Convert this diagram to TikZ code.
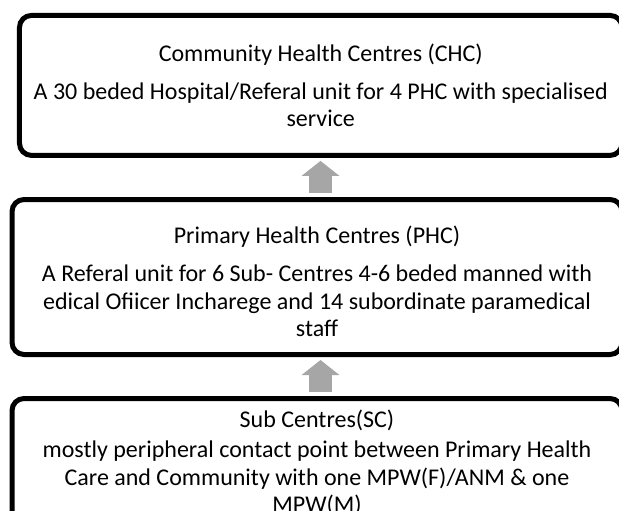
\documentclass[tikz,border=0pt]{standalone}
\usepackage{fontspec}
\setmainfont{Carlito}
\usetikzlibrary{positioning,arrows.meta}
\definecolor{arrowgray}{RGB}{166,166,166}
\begin{document}
\begin{tikzpicture}[x=0.75pt,y=-0.75pt,
  level/.style={draw,line width=3.75pt,rounded corners=9pt,inner sep=0pt,align=center,font=\fontsize{18}{20.6}\selectfont},
  uparrow/.style={draw=arrowgray,line width=17.25pt,-{Triangle[length=11.25pt,width=27.75pt]}}]
\useasboundingbox (0,0) rectangle (619,511);
\node[level,minimum width=451.9pt,minimum height=105pt] (chc) at (320.75,85.4) {Community Health Centres (CHC)\\[8pt]A 30 beded Hospital/Referal unit for 4 PHC with specialised\\service};
\node[level,minimum width=457.5pt,minimum height=116.25pt] (phc) at (317,277) {\rule{0pt}{20pt}Primary Health Centres (PHC)\\[8pt]A Referal unit for 6 Sub- Centres 4-6 beded manned with\\edical Ofiicer Incharege and 14 subordinate paramedical\\staff};
\node[level,minimum width=457.5pt,minimum height=96.75pt] (sc) at (317,463) {Sub Centres(SC)\\[2pt]mostly peripheral contact point between Primary Health\\Care and Community with one MPW(F)/ANM \& one\\MPW(M)};
\coordinate (ax) at (320.5,0);
\draw[uparrow,shorten <=3.2pt,shorten >=2.25pt] (ax |- phc.north) -- (ax |- chc.south);
\draw[uparrow,shorten <=3.2pt,shorten >=2.25pt] (ax |- sc.north) -- (ax |- phc.south);
\end{tikzpicture}
\end{document}
